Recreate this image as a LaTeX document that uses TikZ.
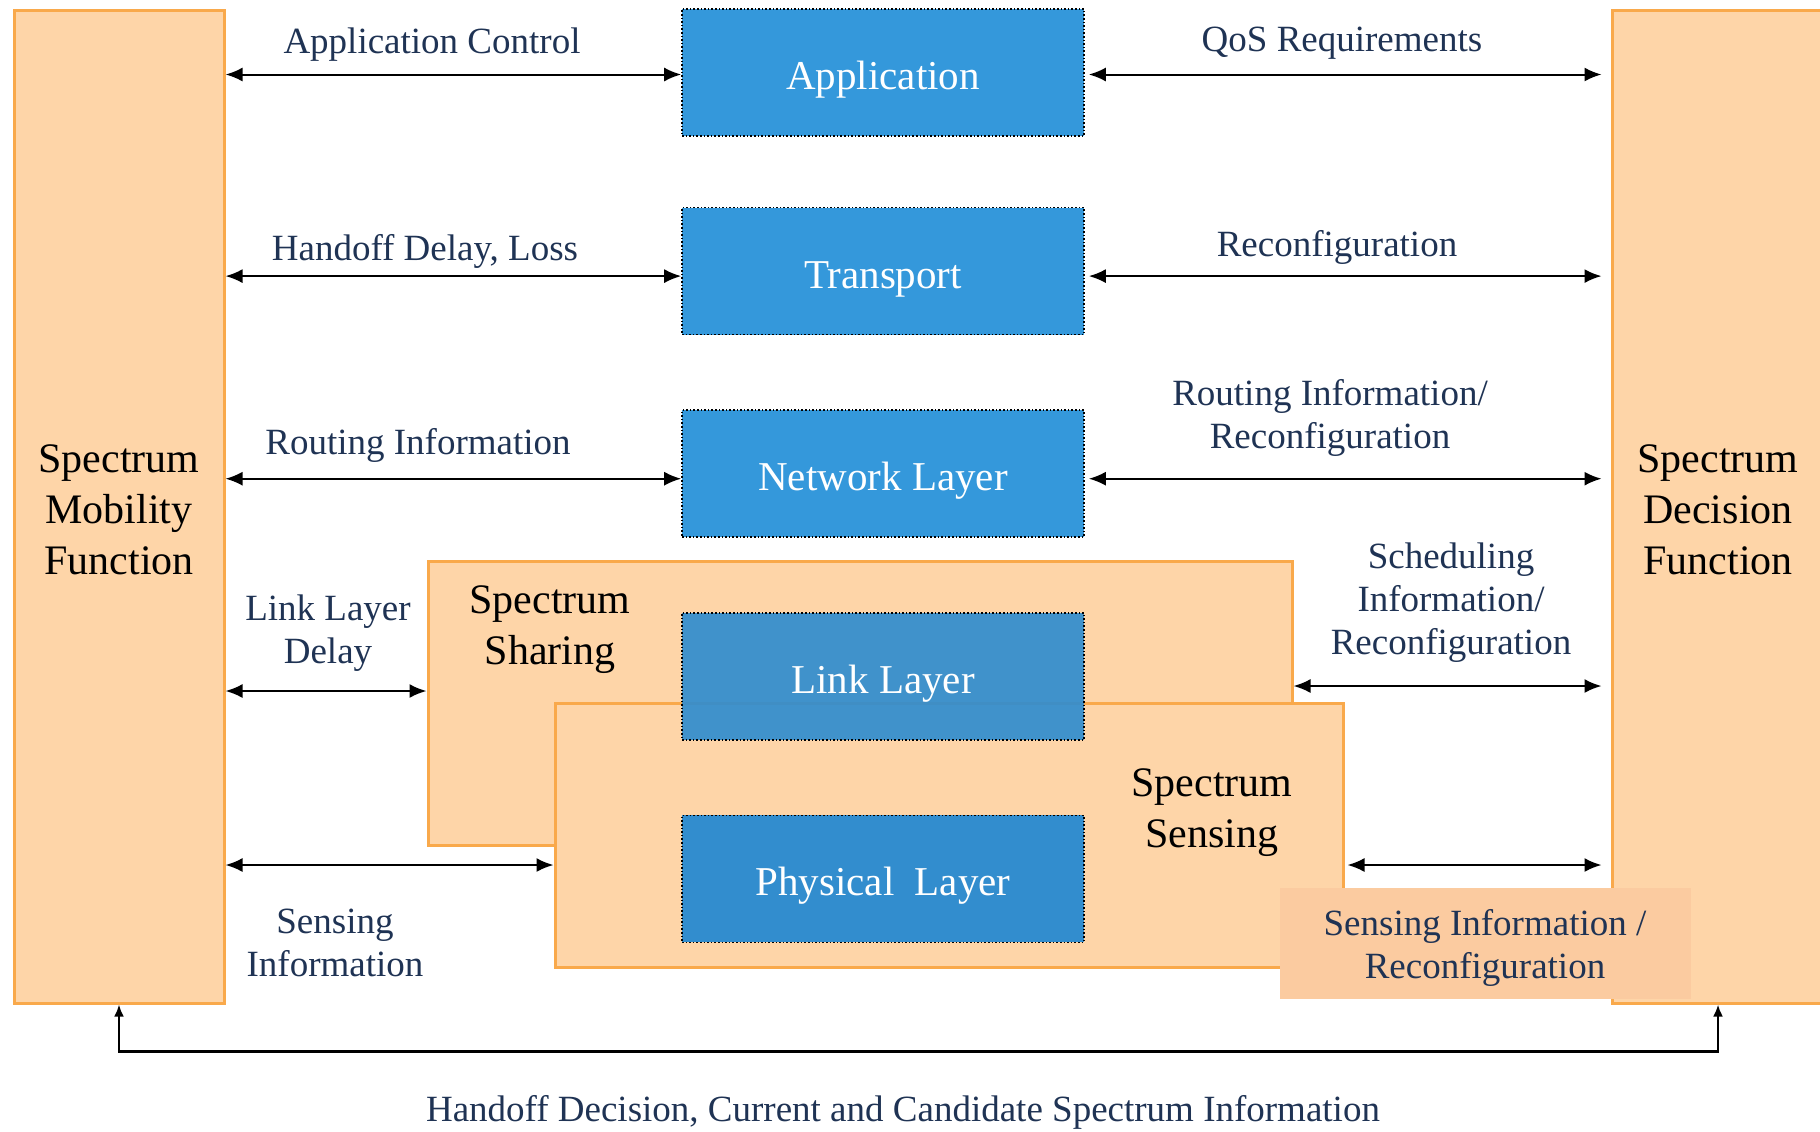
\documentclass[tikz,border=0pt]{standalone}
\usepackage{fontspec}
\setmainfont{Liberation Serif}
\usetikzlibrary{arrows.meta,positioning}
\definecolor{layerblue}{HTML}{3498DB}
\definecolor{lowblue}{HTML}{328DCE}
\definecolor{boxfill}{HTML}{FED5A8}
\definecolor{boxline}{HTML}{F9A94B}
\definecolor{infofill}{HTML}{FBCBA0}
\definecolor{labeltext}{HTML}{1F3354}

\begin{document}
\begin{tikzpicture}
  [x=0.5pt,y=-0.5pt,
   layer/.style={rectangle,draw=black,densely dotted,line width=0.8pt,fill=layerblue,
                 text=white,font=\fontsize{20.5}{24}\selectfont,
                 text height=17pt,text depth=0pt,
                 minimum width=201pt,minimum height=63.5pt,inner sep=0pt},
   func/.style={rectangle,draw=boxline,line width=1.5pt,fill=boxfill,inner sep=0pt},
   lbl/.style={text=labeltext,align=center,inner sep=0pt,
               font=\fontsize{18.5}{21.5}\selectfont},
   biglbl/.style={align=center,inner sep=0pt,font=\fontsize{21}{25.5}\selectfont},
   link/.style={{Latex[length=8.5pt,width=7pt]}-{Latex[length=8.5pt,width=7pt]},
                line width=1pt}]
  \useasboundingbox (0,0) rectangle (1820,1131);

  % side functions and the two spanning blocks
  \node[func,minimum width=105pt,minimum height=496.5pt] (mobility) at (119,506.5) {};
  \node[biglbl] (mobilitylbl) at (119,510) {Spectrum\\Mobility\\Function};
  \node[func,minimum width=106pt,minimum height=496.5pt] (decision) at (1718,506.5) {};
  \node[biglbl] (decisionlbl) at (1718,510) {Spectrum\\Decision\\Function};
  \node[func,minimum width=432pt,minimum height=142pt] (sharing) at (860,703) {};
  \node[biglbl] (sharinglbl) at (550,630) {Spectrum\\Sharing};
  \node[func,minimum width=394pt,minimum height=132pt] (sensing) at (949,835) {};
  \node[biglbl] (sensinglbl) at (1212,813) {Spectrum\\Sensing};

  % protocol stack
  \node[layer] (application) at (883,72.5)                {Application};
  \node[layer] (transport)   [below=35pt of application] {Transport};
  \node[layer] (network)     [below=37pt of transport]   {Network Layer};
  \node[layer,fill=lowblue,fill opacity=0.93,text opacity=1]
               (linklayer)   [below=37pt of network]     {Link Layer};
  \node[layer,fill=lowblue]
               (physical)    [below=37pt of linklayer]   {Physical\ \ Layer};

  \node[fill=infofill,minimum width=205.5pt,minimum height=55.5pt,inner sep=0pt]
       (sensinfo) at (1485,943) {};
  \node[lbl] (sensinfolbl) at (1485,948) {Sensing Information /\\Reconfiguration};

  % labels
  \node[lbl] (appctl)     at (432,45)   {Application Control};
  \node[lbl] (qos)        at (1342,43)  {QoS Requirements};
  \node[lbl] (handoff)    at (425,251)  {Handoff Delay, Loss};
  \node[lbl] (reconf)     at (1337,247) {Reconfiguration};
  \node[lbl] (routing)    at (418,445)  {Routing Information};
  \node[lbl] (routreconf) at (1330,418) {Routing Information/\\Reconfiguration};
  \node[lbl] (linkdelay)  at (328,633)  {Link Layer\\Delay};
  \node[lbl] (sched)      at (1451,603) {Scheduling\\Information/\\Reconfiguration};
  \node[lbl] (sensedinfo) at (335,943)  {Sensing\\Information};
  \node[lbl] (candidate)  at (903,1112)
       {Handoff Decision, Current and Candidate Spectrum Information};

  % connectors
  \coordinate (appin)    at ([yshift=-1pt]application.west);
  \coordinate (appout)   at ([yshift=-1pt]application.east);
  \coordinate (transin)  at ([yshift=-2.5pt]transport.west);
  \coordinate (transout) at ([yshift=-2.5pt]transport.east);
  \coordinate (netin)    at ([yshift=-2.5pt]network.west);
  \coordinate (netout)   at ([yshift=-2.5pt]network.east);
  \coordinate (delayin)  at ([yshift=6pt]sharing.west);
  \coordinate (schedout) at ([yshift=8.5pt]sharing.east);
  \coordinate (sensein)  at ([yshift=-15pt]sensing.west);
  \coordinate (senseout) at ([yshift=-15pt]sensing.east);
  \draw[link] (mobility.east |- appin) -- (appin);
  \draw[link] (mobility.east |- transin) -- (transin);
  \draw[link] (mobility.east |- netin) -- (netin);
  \draw[link] (mobility.east |- delayin) -- (delayin);
  \draw[link] (mobility.east |- sensein) -- (sensein);
  \draw[link,shorten <=2pt,shorten >=4.5pt] (appout) -- (decision.west |- appout);
  \draw[link,shorten <=2pt,shorten >=4.5pt] (transout) -- (decision.west |- transout);
  \draw[link,shorten <=2pt,shorten >=4.5pt] (netout) -- (decision.west |- netout);
  \draw[link,shorten >=4.5pt] (schedout) -- (decision.west |- schedout);
  \draw[link,shorten <=1.5pt,shorten >=4.5pt] (senseout) -- (decision.west |- senseout);
  \draw[{Latex[length=6pt,width=5pt]}-{Latex[length=6pt,width=5pt]},line width=1.4pt]
       (mobility.south) -- ++(0,47) -| (decision.south);
\end{tikzpicture}
\end{document}
